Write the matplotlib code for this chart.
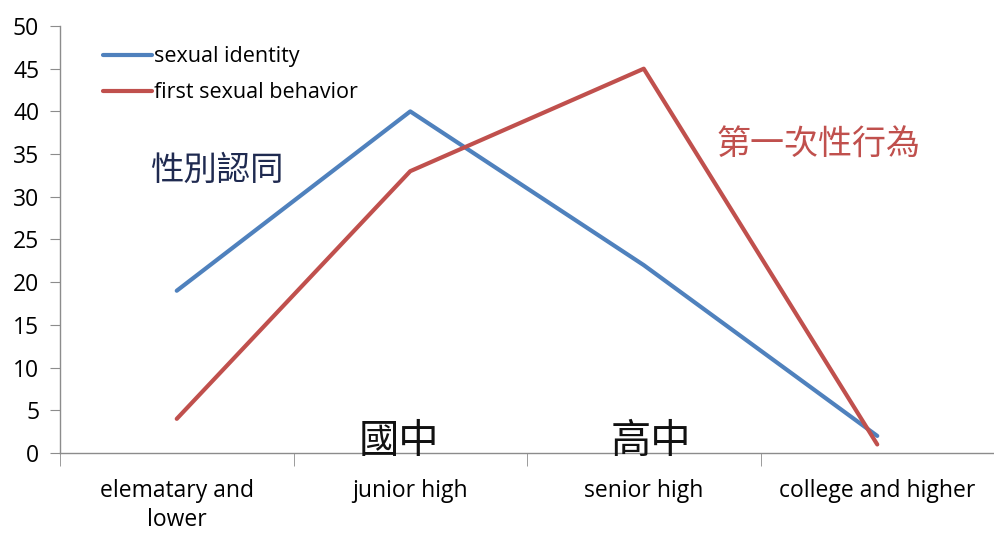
import matplotlib.pyplot as plt
import numpy as np

plt.rcParams['font.family'] = ['Open Sans', 'Noto Sans CJK TC', 'DejaVu Sans']

# datos
categorias = ['elematary and\nlower', 'junior high', 'senior high', 'college and higher']
identidad = [19, 40, 22, 2]
conducta = [4, 33, 45, 1]

azul = '#4F81BD'
rojo = '#C0504D'
gris = '#8C8C8C'

fig = plt.figure(figsize=(9.94, 5.34), dpi=100)
ax = fig.add_axes([60 / 994, 1 - 453 / 534, 1 - 60 / 994, (453 - 26) / 534])

x = np.arange(len(categorias))
ax.plot(x, identidad, color=azul, lw=3, label='sexual identity', solid_capstyle='round')
ax.plot(x, conducta, color=rojo, lw=3, label='first sexual behavior', solid_capstyle='round')

ax.set_xlim(-0.5, 3.5)
ax.set_ylim(0, 50)
ax.set_yticks(range(0, 51, 5))
ax.set_xticks(x)
ax.set_xticklabels(categorias, fontsize=16.5, linespacing=1.25)
ax.set_xticks(np.arange(-0.5, 3.5, 1), minor=True)
ax.tick_params(axis='x', which='major', length=0, pad=19)
ax.tick_params(axis='x', which='minor', length=9, color=gris, direction='out')
ax.tick_params(axis='y', length=7, color=gris, labelsize=16.5, pad=8)

for s in ['top', 'right']:
    ax.spines[s].set_visible(False)
for s in ['left', 'bottom']:
    ax.spines[s].set_color(gris)
    ax.spines[s].set_linewidth(1)

# textos en chino
ax.text(0.17, 33.1, '性別認同', fontsize=24, color='#1F2A50', ha='center', va='center',
        family=['Noto Sans CJK TC'])
ax.text(2.75, 36, '第一次性行為', fontsize=24.5, color=rojo, ha='center', va='center',
        family=['Noto Sans CJK TC'])
ax.text(0.95, 1.3, '國中', fontsize=29, color='#111111', ha='center', va='center',
        family=['Noto Sans CJK TC'])
ax.text(2.03, 1.3, '高中', fontsize=29, color='#111111', ha='center', va='center',
        family=['Noto Sans CJK TC'])

ax.legend(loc='upper left', bbox_to_anchor=(0.025, 0.998), frameon=False, fontsize=15.5,
          handlelength=2.3, handletextpad=0.1, labelspacing=0.7)

plt.savefig('out.png', dpi=100)
